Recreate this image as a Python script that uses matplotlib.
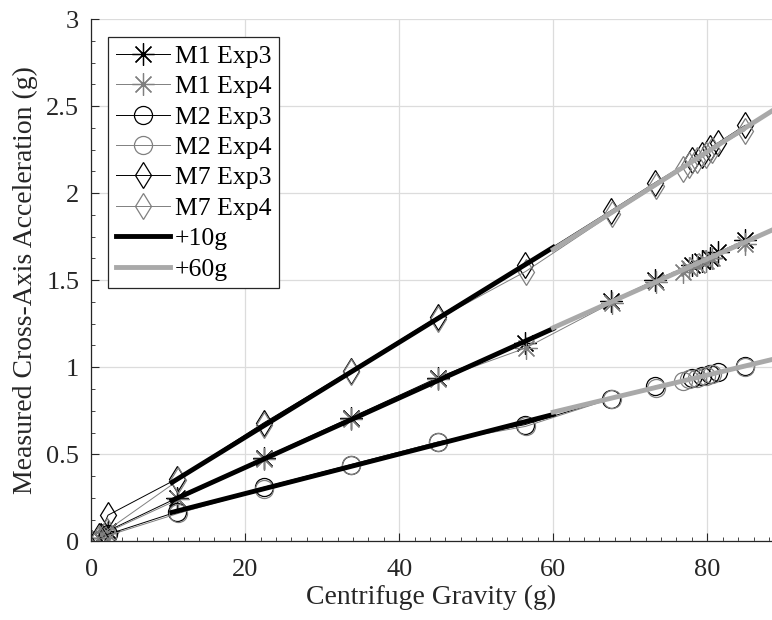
import numpy as np
import matplotlib
matplotlib.use("Agg")
import matplotlib.pyplot as plt
from matplotlib.ticker import MultipleLocator

plt.rcParams['font.family'] = ['Liberation Serif', 'DejaVu Serif']

# centrifuge gravity levels (g) for each experiment
g_exp3 = [1.0, 2.2, 11.2, 22.4, 33.7, 45.0, 56.3, 67.5, 73.2, 78.0, 79.3, 80.4, 81.4, 84.9]
g_exp4 = [1.0, 2.0, 11.3, 22.5, 33.8, 45.1, 56.4, 67.6, 73.3, 76.8, 77.6, 78.6, 79.8, 80.6, 84.9]

# measured cross-axis acceleration (g)
m1_exp3 = [0.02, 0.06, 0.25, 0.48, 0.71, 0.94, 1.14, 1.38, 1.50, 1.59, 1.61, 1.63, 1.66, 1.73]
m1_exp4 = [0.02, 0.05, 0.24, 0.47, 0.70, 0.93, 1.11, 1.37, 1.49, 1.55, 1.57, 1.59, 1.61, 1.63, 1.71]
m2_exp3 = [0.01, 0.04, 0.17, 0.31, 0.44, 0.57, 0.67, 0.82, 0.89, 0.94, 0.95, 0.96, 0.97, 1.01]
m2_exp4 = [0.01, 0.03, 0.16, 0.30, 0.44, 0.57, 0.66, 0.82, 0.88, 0.92, 0.93, 0.94, 0.95, 0.96, 1.00]
m7_exp3 = [0.03, 0.15, 0.36, 0.68, 0.98, 1.29, 1.59, 1.90, 2.06, 2.19, 2.22, 2.26, 2.29, 2.39]
m7_exp4 = [0.02, 0.06, 0.35, 0.67, 0.97, 1.28, 1.55, 1.88, 2.04, 2.14, 2.16, 2.19, 2.22, 2.25, 2.36]

BLACK = 'black'
GRAY = '#808080'
LIGHT = '#a9a9a9'
TXT = '#262626'

fig = plt.figure(figsize=(7.72, 6.2), dpi=100)
ax = fig.add_axes([0.118, 0.127, 0.882, 0.842])

asterisk = (8, 2, 0)
series = [
    ('M1 Exp3', g_exp3, m1_exp3, asterisk, BLACK),
    ('M1 Exp4', g_exp4, m1_exp4, asterisk, GRAY),
    ('M2 Exp3', g_exp3, m2_exp3, 'o', BLACK),
    ('M2 Exp4', g_exp4, m2_exp4, 'o', GRAY),
    ('M7 Exp3', g_exp3, m7_exp3, 'd', BLACK),
    ('M7 Exp4', g_exp4, m7_exp4, 'd', GRAY),
]
sizes = {'o': 13, 'd': 13}
for label, x, y, mk, c in series:
    ax.plot(x, y, '-', color=c, lw=0.7, marker=mk, ms=sizes.get(mk, 16),
            mfc='none', mec=c, mew=0.9, label=label)

# linear fits above 10 g (drawn to 60 g) and above 60 g (drawn to the edge)
xmax = 88.4
for models in [(m1_exp3, m1_exp4), (m2_exp3, m2_exp4), (m7_exp3, m7_exp4)]:
    xs = np.array(g_exp3 + g_exp4)
    ys = np.array(models[0] + models[1])
    p10 = np.polyfit(xs[xs >= 10], ys[xs >= 10], 1)
    p60 = np.polyfit(xs[xs >= 60], ys[xs >= 60], 1)
    x10 = np.array([10.5, 60])
    x60 = np.array([60, xmax])
    l10, = ax.plot(x10, np.polyval(p10, x10), color=BLACK, lw=3.5, zorder=4)
    l60, = ax.plot(x60, np.polyval(p60, x60), color=LIGHT, lw=3.5, zorder=4)
l10.set_label('+10g')
l60.set_label('+60g')

ax.set_xlim(0, xmax)
ax.set_ylim(0, 3)
ax.xaxis.set_major_locator(MultipleLocator(20))
ax.xaxis.set_minor_locator(MultipleLocator(2))
ax.yaxis.set_minor_locator(MultipleLocator(0.125))
ax.set_yticks([0, 0.5, 1, 1.5, 2, 2.5, 3])
ax.set_yticklabels(['0', '0.5', '1', '1.5', '2', '2.5', '3'])
ax.grid(True, which='major', color='#dcdcdc', lw=0.9)
ax.set_axisbelow(True)
for s in ['top', 'right']:
    ax.spines[s].set_visible(False)
for s in ['left', 'bottom']:
    ax.spines[s].set_color(TXT)
    ax.spines[s].set_linewidth(0.9)
ax.tick_params(which='both', direction='in', colors=TXT, labelsize=19)
ax.tick_params(which='major', length=6)
ax.tick_params(axis='x', which='major', pad=12.5)
ax.tick_params(axis='y', which='major', pad=8.5)
ax.tick_params(which='minor', length=3)

ax.set_xlabel('Centrifuge Gravity (g)', fontsize=20, color=TXT, labelpad=3)
ax.set_ylabel('Measured Cross-Axis Acceleration (g)', fontsize=20, color=TXT, labelpad=6)

leg = ax.legend(loc='upper left', bbox_to_anchor=(0.025, 0.966), borderaxespad=0,
                fontsize=18.5, handlelength=2.1, handletextpad=0.2,
                labelspacing=0.29, fancybox=False, framealpha=1,
                edgecolor=TXT, borderpad=0.3)
leg.get_frame().set_linewidth(0.9)

fig.savefig('out.png', dpi=100)
